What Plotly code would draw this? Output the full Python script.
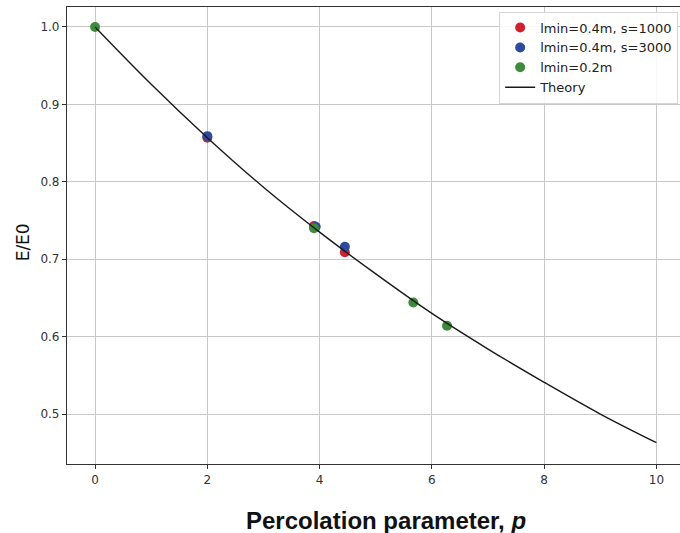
import plotly.graph_objects as go

# Data
red_p = [2.0, 3.9, 4.45]
red_e = [0.857, 0.743, 0.709]
blue_p = [2.0, 3.93, 4.45]
blue_e = [0.859, 0.742, 0.716]
green_p = [0.0, 3.9, 5.67, 6.27]
green_e = [1.0, 0.740, 0.644, 0.614]
theory_p = [0, 1, 2, 3, 4, 5, 6, 7, 8, 9, 10]
theory_e = [1.0, 0.926, 0.857, 0.793, 0.735, 0.681, 0.630, 0.584, 0.541, 0.500, 0.463]

x_ticks = [0, 2, 4, 6, 8, 10]
y_ticks = [0.5, 0.6, 0.7, 0.8, 0.9, 1.0]

fig = go.Figure()
mk = dict(size=10, line=dict(width=0))
fig.add_trace(go.Scatter(x=red_p, y=red_e, mode="markers", name="lmin=0.4m, s=1000",
                         marker=dict(color="#d1202b", **mk)))
fig.add_trace(go.Scatter(x=blue_p, y=blue_e, mode="markers", name="lmin=0.4m, s=3000",
                         marker=dict(color="#2d4a9d", **mk)))
fig.add_trace(go.Scatter(x=green_p, y=green_e, mode="markers", name="lmin=0.2m",
                         marker=dict(color="#3f8a3c", **mk)))
fig.add_trace(go.Scatter(x=theory_p, y=theory_e, mode="lines", name="Theory",
                         line=dict(color="#1a1a1a", width=1.4, shape="spline")))

axis_common = dict(showgrid=True, gridcolor="#c9c9c9", gridwidth=1.4,
                   showline=True, linecolor="#333333", linewidth=1.2,
                   ticks="outside", ticklen=4, tickcolor="#333333",
                   tickfont=dict(family="DejaVu Sans", size=12, color="#333333"),
                   zeroline=False, mirror=True)

fig.update_layout(
    width=680, height=533,
    margin=dict(l=67, r=0, t=7, b=69),
    plot_bgcolor="white", paper_bgcolor="white",
    xaxis=dict(range=[-0.5, 10.42], tickvals=x_ticks, **axis_common),
    yaxis=dict(range=[0.4355, 1.0258], tickvals=y_ticks, tickformat=".1f", **axis_common),
    legend=dict(x=0.997, y=0.99, xanchor="right", yanchor="top",
                bgcolor="rgba(255,255,255,0.85)", bordercolor="#d5d5d5", borderwidth=1,
                font=dict(family="DejaVu Sans", size=13, color="#222222"),
                tracegroupgap=0, itemwidth=30),
    showlegend=True,
)

fig.add_annotation(text="<b>Percolation parameter, <i>p</i></b>", xref="paper", yref="paper",
                   x=0.52, y=0, yshift=-56, showarrow=False, xanchor="center", yanchor="middle",
                   font=dict(family="Liberation Sans", size=24, color="#111111"))
fig.add_annotation(text="E/E0", xref="paper", yref="paper", x=0, xshift=-44, y=0.485,
                   showarrow=False, textangle=-90, xanchor="center", yanchor="middle",
                   font=dict(family="DejaVu Sans", size=17, color="#111111"))

fig.write_html("out.html")
